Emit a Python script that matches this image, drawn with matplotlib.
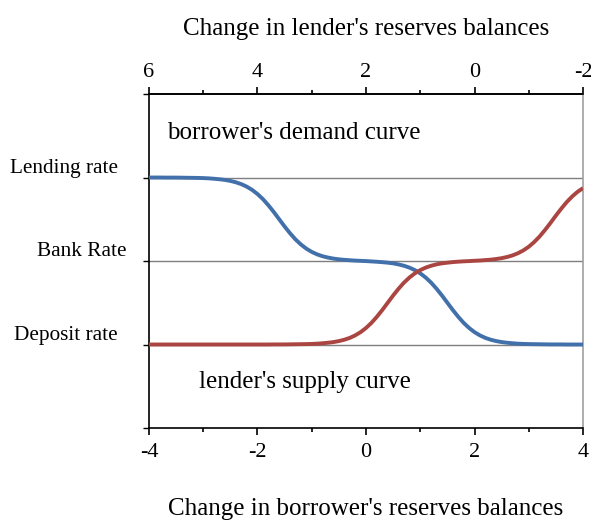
import matplotlib.pyplot as plt
import numpy as np
from matplotlib.ticker import MultipleLocator, NullFormatter

# change in borrower's reserves balances (bottom axis), read every 0.1
x = np.linspace(-4, 4, 81)

# borrower's demand curve (rate level: 0 deposit, 1 bank rate, 2 lending)
demand = [2.000, 2.000, 2.000, 1.999, 1.999, 1.999, 1.998, 1.997, 1.996, 1.995,
          1.993, 1.990, 1.985, 1.979, 1.971, 1.959, 1.943, 1.921, 1.891, 1.852,
          1.802, 1.741, 1.668, 1.587, 1.500, 1.413, 1.332, 1.259, 1.198, 1.148,
          1.109, 1.079, 1.057, 1.041, 1.029, 1.020, 1.014, 1.009, 1.005, 1.002,
          0.999, 0.995, 0.991, 0.986, 0.980, 0.972, 0.959, 0.943, 0.921, 0.891,
          0.852, 0.802, 0.741, 0.668, 0.587, 0.500, 0.413, 0.332, 0.259, 0.198,
          0.148, 0.109, 0.079, 0.057, 0.041, 0.029, 0.021, 0.015, 0.010, 0.007,
          0.005, 0.004, 0.003, 0.002, 0.001, 0.001, 0.001, 0.000, 0.000, 0.000,
          0.000]

# lender's supply curve
supply = [0.000, 0.000, 0.000, 0.000, 0.000, 0.000, 0.000, 0.000, 0.000, 0.000,
          0.000, 0.000, 0.000, 0.000, 0.000, 0.000, 0.000, 0.000, 0.000, 0.000,
          0.000, 0.000, 0.000, 0.001, 0.001, 0.001, 0.002, 0.003, 0.004, 0.005,
          0.007, 0.010, 0.015, 0.021, 0.029, 0.041, 0.057, 0.079, 0.109, 0.148,
          0.198, 0.259, 0.332, 0.413, 0.500, 0.587, 0.668, 0.741, 0.802, 0.852,
          0.891, 0.921, 0.943, 0.960, 0.972, 0.980, 0.987, 0.992, 0.996, 0.999,
          1.003, 1.006, 1.011, 1.016, 1.024, 1.034, 1.048, 1.067, 1.093, 1.127,
          1.171, 1.227, 1.294, 1.372, 1.456, 1.544, 1.628, 1.706, 1.773, 1.829,
          1.873]

rate_levels = [2, 1, 0]
rate_names = ['Lending rate', 'Bank Rate', 'Deposit rate']
bottom_ticks = [-4, -2, 0, 2, 4]
top_ticks = [6, 4, 2, 0, -2]

BLUE = '#4270aa'
RED = '#ab4541'

plt.rcParams['font.family'] = ['Liberation Serif', 'DejaVu Serif']
plt.rcParams['axes.unicode_minus'] = False

fig = plt.figure(figsize=(5.91, 5.24), dpi=100)
ax = fig.add_axes([0.2521, 0.1832, 0.7344, 0.6374])

for level in rate_levels:
    ax.axhline(level, color='#7f7f7f', lw=1.0, zorder=1)

ax.plot(x, demand, color=BLUE, lw=2.8, solid_joinstyle='round',
        solid_capstyle='butt', zorder=3)
ax.plot(x, supply, color=RED, lw=2.8, solid_joinstyle='round',
        solid_capstyle='butt', zorder=3)

ax.set_xlim(-4, 4)
ax.set_ylim(-1, 3)

ax.set_xticks(bottom_ticks)
ax.xaxis.set_minor_locator(MultipleLocator(1))
ax.tick_params(axis='x', which='major', direction='out', length=5, width=1.2,
               labelsize=16, pad=6)
ax.tick_params(axis='x', which='minor', direction='out', length=3, width=1.2)

ax.set_yticks([-1, 0, 1, 2, 3])
ax.yaxis.set_major_formatter(NullFormatter())
ax.tick_params(axis='y', direction='out', length=4, width=1.0)

for side in ['left', 'bottom', 'top']:
    ax.spines[side].set_linewidth(1.2)
    ax.spines[side].set_color('black')
ax.spines['right'].set_color('#a0a0a0')
ax.spines['right'].set_linewidth(1.2)

# top axis: change in lender's reserves balances
top = ax.secondary_xaxis('top', functions=(lambda v: 2 - v, lambda v: 2 - v))
top.set_xticks(top_ticks)
top.xaxis.set_minor_locator(MultipleLocator(1))
top.tick_params(axis='x', which='major', direction='out', length=5, width=1.2,
                labelsize=16, pad=4)
top.tick_params(axis='x', which='minor', direction='out', length=3, width=1.2)
top.spines['top'].set_linewidth(1.2)
top.set_xlabel("Change in lender's reserves balances", fontsize=18, labelpad=20)

ax.set_xlabel("Change in borrower's reserves balances", fontsize=18, labelpad=26)

label_x = [-0.0714, -0.0507, -0.0714]
for level, name, lx in zip(rate_levels, rate_names, label_x):
    ax.text(lx, level + 0.11, name, transform=ax.get_yaxis_transform(),
            ha='right', va='center', fontsize=15.3)

ax.text(-3.67, 2.53, "borrower's demand curve", fontsize=18, va='center')
ax.text(-3.08, -0.45, "lender's supply curve", fontsize=18, va='center')

fig.savefig('out.png', dpi=100)
